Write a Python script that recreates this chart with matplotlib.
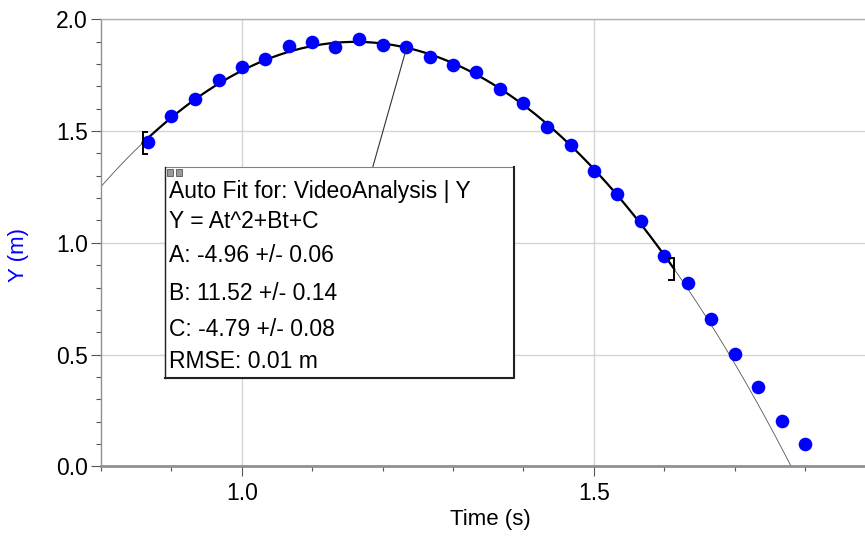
import numpy as np
import matplotlib
matplotlib.use("Agg")
import matplotlib.pyplot as plt
from matplotlib.patches import Rectangle
from matplotlib.lines import Line2D

plt.rcParams['font.family'] = ['Liberation Sans', 'DejaVu Sans']

# ---- data ----
time_s = [0.867, 0.900, 0.933, 0.967, 1.000, 1.033, 1.067, 1.100, 1.133, 1.167,
          1.200, 1.233, 1.267, 1.300, 1.333, 1.367, 1.400, 1.433, 1.467, 1.500,
          1.533, 1.567, 1.600, 1.633, 1.667, 1.700, 1.733, 1.767, 1.800]
y_m = [1.449, 1.566, 1.645, 1.727, 1.785, 1.823, 1.879, 1.899, 1.876, 1.912,
       1.884, 1.878, 1.831, 1.797, 1.764, 1.688, 1.624, 1.518, 1.438, 1.322,
       1.218, 1.098, 0.942, 0.822, 0.658, 0.503, 0.356, 0.203, 0.099]

# fit parameters (Y = At^2 + Bt + C)
A, B, C = -4.96, 11.52, -4.79
fit_start, fit_end = 0.859, 1.614
anchor_t = 1.234

box_lines = ["Auto Fit for: VideoAnalysis | Y",
             "Y = At^2+Bt+C",
             "A: -4.96 +/- 0.06",
             "B: 11.52 +/- 0.14",
             "C: -4.79 +/- 0.08",
             "RMSE: 0.01 m"]

x_major = [1.0, 1.5]
y_major = [0.0, 0.5, 1.0, 1.5, 2.0]

W, H = 865, 536
fig = plt.figure(figsize=(W / 100, H / 100), dpi=100)

def fx(px):
    return px / W

def fy(py):
    return 1 - py / H

ax_left, ax_right, ax_top, ax_bottom = 101, 865, 19.3, 466.3
ax = fig.add_axes([fx(ax_left), fy(ax_bottom), (ax_right - ax_left) / W, (ax_bottom - ax_top) / H])

def f(t):
    return A * np.asarray(t) ** 2 + B * np.asarray(t) + C

xlim = (0.8, 1.885)
ax.set_xlim(*xlim)
ax.set_ylim(0, 2.0)

# thin extended fit
tt = np.linspace(xlim[0], xlim[1], 400)
ax.plot(tt, f(tt), color='#555555', lw=0.6, zorder=2)
# thick fit within range
tf = np.linspace(fit_start, fit_end, 300)
ax.plot(tf, f(tf), color='black', lw=1.6, zorder=3)

# data
ax.plot(time_s, y_m, 'o', color='#0000ff', markersize=9.8, markeredgewidth=0, zorder=4)

# brackets at fit range ends
for tb, direction in ((fit_start, 1), (fit_end, -1)):
    yb = float(f(tb))
    h = 0.05
    w = 0.007 * direction
    ax.plot([tb + w, tb, tb, tb + w], [yb + h, yb + h, yb - h, yb - h],
            color='black', lw=1.4, zorder=5, solid_joinstyle='miter')

# grid
ax.set_xticks(x_major)
ax.set_xticklabels([f"{v:.1f}" for v in x_major])
ax.set_yticks(y_major)
ax.set_yticklabels([f"{v:.1f}" for v in y_major])
ax.set_xticks(np.arange(0.8, 1.881, 0.1), minor=True)
ax.set_yticks(np.arange(0.0, 2.01, 0.1), minor=True)
ax.grid(True, which='major', color='#d4d4d4', lw=1.0, zorder=0)
ax.set_axisbelow(True)

ax.spines['right'].set_visible(False)
ax.spines['top'].set_color('#b0b0b0')
ax.spines['top'].set_linewidth(1.0)
ax.spines['left'].set_color('#909090')
ax.spines['left'].set_linewidth(1.0)
ax.spines['bottom'].set_color('#909090')
ax.spines['bottom'].set_linewidth(2.0)

ax.tick_params(which='major', direction='out', length=7.5, width=0.8, color='#555555',
               labelsize=16.5, pad=2)
ax.tick_params(which='minor', direction='out', length=3.8, width=0.8, color='#555555')
ax.tick_params(axis='x', which='major', pad=4)

ax.set_xlabel("Time (s)", fontsize=16)
ax.set_ylabel("Y (m)", fontsize=16, color='#0000ff')
ax.xaxis.set_label_coords((490 - ax_left) / (ax_right - ax_left), (ax_bottom - 520) / (ax_bottom - ax_top))
ax.yaxis.set_label_coords((18.5 - ax_left) / (ax_right - ax_left), (ax_bottom - 255) / (ax_bottom - ax_top))
ax.xaxis.label.set_va('center')
ax.yaxis.label.set_va('center')

# leader line from curve to the box
ax.annotate('', xy=(anchor_t, float(f(anchor_t))), xycoords='data',
            xytext=(fx(372.7), fy(167.3)), textcoords='figure fraction',
            arrowprops=dict(arrowstyle='-', color='#333333', lw=0.8, shrinkA=0, shrinkB=0),
            zorder=6)

# annotation box
bx0, by0, bx1, by1 = 165, 167.3, 514.3, 378.3
fig.patches.append(Rectangle((fx(bx0), fy(by1)), (bx1 - bx0) / W, (by1 - by0) / H,
                             transform=fig.transFigure, facecolor='white',
                             edgecolor='#808080', lw=0.8, zorder=2))
fig.lines.append(Line2D([fx(bx0), fx(bx1), fx(bx1)], [fy(by1), fy(by1), fy(by0)],
                        transform=fig.transFigure, color='#222222', lw=1.5, zorder=3))
fig.lines.append(Line2D([fx(bx0), fx(bx0)], [fy(by0), fy(by1)],
                        transform=fig.transFigure, color='#222222', lw=1.0, zorder=3))
# small window icons
for ix in (166.5, 175.5):
    fig.patches.append(Rectangle((fx(ix), fy(175.5)), 6.5 / W, 6.5 / H,
                                 transform=fig.transFigure, facecolor='#9a9a9a',
                                 edgecolor='#555555', lw=0.6, zorder=4))

line_y = [192, 222, 255, 293, 330, 362]
for txt, ly in zip(box_lines, line_y):
    fig.text(fx(169), fy(ly), txt, fontsize=16.5, va='center', ha='left', zorder=5)

fig.savefig("out.png", dpi=100)
